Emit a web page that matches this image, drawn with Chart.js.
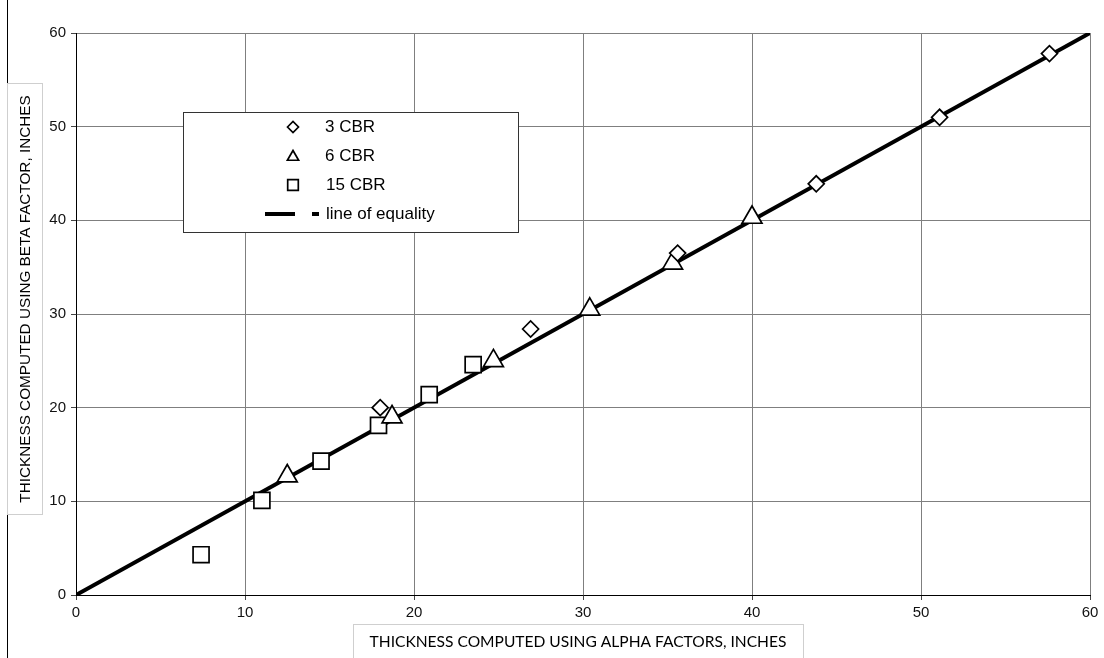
<!DOCTYPE html>
<html>
<head>
<meta charset="utf-8">
<script src="https://cdn.jsdelivr.net/npm/chart.js@4.4.1/dist/chart.umd.min.js"></script>
<style>
  html, body { margin: 0; padding: 0; background: #fff; }
  #wrap { width: 1104px; height: 658px; }
</style>
</head>
<body>
<div id="wrap"><canvas id="chart" width="1104" height="658"></canvas></div>
<script>
// thickness pairs (alpha factors, beta factor), inches
const cbr3X = [18.0, 26.9, 35.6, 43.8, 51.1, 57.6];
const cbr3Y = [20.0, 28.4, 36.5, 43.9, 51.0, 57.8];
const cbr6X = [12.5, 18.7, 24.7, 30.4, 35.3, 40.0];
const cbr6Y = [12.7, 19.0, 25.0, 30.5, 35.4, 40.3];
const cbr15X = [7.4, 11.0, 14.5, 17.9, 20.9, 23.5];
const cbr15Y = [4.3, 10.1, 14.3, 18.1, 21.4, 24.6];
const equalityX = [0, 60];
const equalityY = [0, 60];
const tickValues = [0, 10, 20, 30, 40, 50, 60];

const seriesNames = ['3 CBR', '6 CBR', '15 CBR', 'line of equality'];
const xTitle = 'THICKNESS COMPUTED USING ALPHA FACTORS, INCHES';
const yTitle = 'THICKNESS COMPUTED USING BETA FACTOR, INCHES';

const pts = (xs, ys) => xs.map((x, i) => ({ x, y: ys[i] }));
const ARIAL = '"Liberation Sans", Arial, sans-serif';

function markerSet(label, xs, ys, style, r) {
  return {
    type: 'scatter',
    label,
    data: pts(xs, ys),
    pointStyle: style,
    pointRadius: r,
    pointBorderWidth: 1.7,
    pointBackgroundColor: '#fff',
    pointBorderColor: '#000',
    order: 1
  };
}

// white page, outer rule, axis title boxes
const frame = {
  id: 'frame',
  beforeDraw(chart) {
    const ctx = chart.ctx;
    ctx.save();
    ctx.fillStyle = '#fff';
    ctx.fillRect(0, 0, chart.width, chart.height);
    ctx.restore();
  },
  afterDraw(chart) {
    const ctx = chart.ctx;
    ctx.save();
    ctx.strokeStyle = '#000';
    ctx.lineWidth = 1;
    ctx.beginPath();
    ctx.moveTo(7.5, 0);
    ctx.lineTo(7.5, chart.height);
    ctx.stroke();

    // y title
    ctx.fillStyle = '#fff';
    ctx.fillRect(8, 84, 35, 430);
    ctx.strokeStyle = '#cfcfcf';
    ctx.strokeRect(7.5, 83.5, 35, 431);
    ctx.fillStyle = '#000';
    ctx.save();
    ctx.translate(26, 299);
    ctx.rotate(-Math.PI / 2);
    ctx.font = '15.3px ' + ARIAL;
    ctx.textAlign = 'center';
    ctx.textBaseline = 'middle';
    ctx.fillText(yTitle, 0, 0);
    ctx.restore();

    // x title
    ctx.strokeStyle = '#cfcfcf';
    ctx.strokeRect(353.5, 624.5, 450, 40);
    let size = 16;
    ctx.font = size + 'px Lato, "Open Sans", sans-serif';
    const w = ctx.measureText(xTitle).width;
    size = size * 417 / w;
    ctx.font = size.toFixed(2) + 'px Lato, "Open Sans", sans-serif';
    ctx.fillStyle = '#000';
    ctx.textAlign = 'center';
    ctx.textBaseline = 'middle';
    ctx.fillText(xTitle, 578, 642);
    ctx.restore();
  }
};

// legend box inside the plot
const keyBox = {
  id: 'keyBox',
  afterDatasetsDraw(chart) {
    const ctx = chart.ctx;
    ctx.save();
    ctx.fillStyle = '#fff';
    ctx.fillRect(183, 112, 335, 120);
    ctx.strokeStyle = '#333';
    ctx.lineWidth = 1;
    ctx.strokeRect(183.5, 112.5, 335, 120);

    const rows = [127, 156, 185, 214];
    const styles = [['rectRot', 5.5], ['triangle', 6.5], ['rect', 7.5]];
    ctx.font = '17px ' + ARIAL;
    ctx.textBaseline = 'middle';
    styles.forEach(([style, r], i) => {
      ctx.fillStyle = '#fff';
      ctx.strokeStyle = '#000';
      ctx.lineWidth = 1.7;
      Chart.helpers.drawPoint(ctx, { pointStyle: style, radius: r, borderWidth: 1.7, rotation: 0 }, 293, rows[i] + (style === 'triangle' ? 1 : 0));
      ctx.fillStyle = '#000';
      ctx.fillText(seriesNames[i], i === 2 ? 326 : 325, rows[i]);
    });
    ctx.strokeStyle = '#000';
    ctx.lineWidth = 4;
    ctx.beginPath();
    ctx.moveTo(265, rows[3]);
    ctx.lineTo(295, rows[3]);
    ctx.moveTo(312, rows[3]);
    ctx.lineTo(319, rows[3]);
    ctx.stroke();
    ctx.fillStyle = '#000';
    ctx.fillText(seriesNames[3], 326, rows[3]);
    ctx.restore();
  }
};

new Chart(document.getElementById('chart'), {
  type: 'scatter',
  data: {
    datasets: [
      markerSet(seriesNames[0], cbr3X, cbr3Y, 'rectRot', 8),
      markerSet(seriesNames[1], cbr6X, cbr6Y, 'triangle', 11.5),
      markerSet(seriesNames[2], cbr15X, cbr15Y, 'rect', 11.3),
      {
        type: 'line',
        label: seriesNames[3],
        data: pts(equalityX, equalityY),
        borderColor: '#000',
        borderWidth: 4,
        pointRadius: 0,
        fill: false,
        order: 5
      }
    ]
  },
  options: {
    responsive: false,
    animation: false,
    layout: { padding: { top: 33, right: 14, left: 0, bottom: 0 } },
    plugins: {
      legend: { display: false },
      tooltip: { enabled: false }
    },
    scales: {
      x: {
        type: 'linear',
        min: 0,
        max: 60,
        afterBuildTicks: (s) => { s.ticks = tickValues.map(v => ({ value: v })); },
        afterFit: (s) => { s.height = 63; },
        ticks: { color: '#111', font: { family: ARIAL, size: 15 }, padding: 4, maxRotation: 0 },
        grid: { color: '#7f7f7f', lineWidth: 1, tickLength: 5, tickColor: '#444' },
        border: { color: '#000', width: 1 }
      },
      y: {
        type: 'linear',
        min: 0,
        max: 60,
        afterBuildTicks: (s) => { s.ticks = tickValues.map(v => ({ value: v })); },
        afterFit: (s) => { s.width = 76; },
        ticks: { color: '#111', font: { family: ARIAL, size: 15 }, padding: 5 },
        grid: { color: '#7f7f7f', lineWidth: 1, tickLength: 5, tickColor: '#444' },
        border: { color: '#000', width: 1 }
      }
    }
  },
  plugins: [frame, keyBox]
});
</script>
</body>
</html>
